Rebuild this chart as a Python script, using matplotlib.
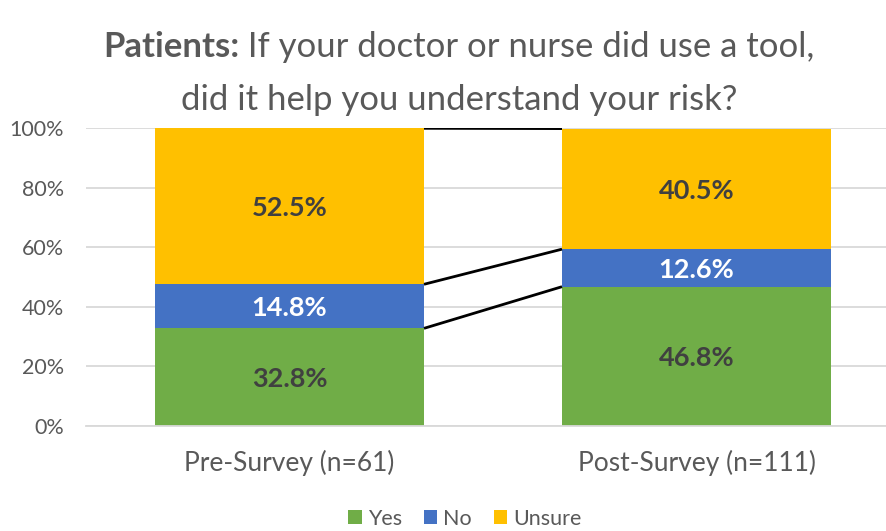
import matplotlib
matplotlib.use("Agg")
import matplotlib.pyplot as plt
import matplotlib.transforms as mtransforms
import numpy as np

categories = ["Pre-Survey (n=61)", "Post-Survey (n=111)"]
series_names = ["Yes", "No", "Unsure"]
yes_vals = [32.8, 46.8]
no_vals = [14.8, 12.6]
unsure_vals = [52.5, 40.5]
yticks = [0, 20, 40, 60, 80, 100]

colors = ["#70AD47", "#4472C4", "#FFC000"]
label_colors = ["#404040", "#FFFFFF", "#404040"]
FONT = "Lato"
plt.rcParams['font.family'] = [FONT, 'DejaVu Sans']

W, H = 886, 531
fig = plt.figure(figsize=(W/100, H/100), dpi=100)
ax = fig.add_axes([86/W, (H-426)/H, 814/W, (426-128.3)/H])

x = np.arange(len(categories))
bw = 269/407
series = [yes_vals, no_vals, unsure_vals]
bottom = np.zeros(len(categories))
tops = []
lab_off = mtransforms.offset_copy(ax.transData, fig=fig, x=0, y=-2, units="dots")
for vals, c, lc, name in zip(series, colors, label_colors, series_names):
    vals = np.array(vals)
    ax.bar(x, vals, bw, bottom=bottom, color=c, label=name, zorder=2)
    for xi, b, v in zip(x, bottom, vals):
        ax.text(xi, b + v/2, f"{v:.1f}%", ha="center", va="center", transform=lab_off,
                color=lc, fontsize=19.5, fontweight="bold", zorder=4)
    bottom = bottom + vals
    tops.append(bottom.copy())

# series lines
for t in tops:
    t = np.clip(t, 0, 100)
    ax.plot([x[0] + bw/2, x[1] - bw/2], [t[0], t[1]], color="black", lw=2, zorder=3,
            solid_capstyle="butt")

ax.set_xlim(-0.5, 1.5)
ax.set_ylim(0, 100)
ax.set_yticks(yticks)
ax.set_yticklabels([f"{v}%" for v in yticks])
ax.set_xticks(x)
ax.set_xticklabels(categories)
ax.yaxis.grid(True, color="#D9D9D9", lw=1.3, zorder=0)
ax.set_axisbelow(True)
for s in ["top", "right", "left"]:
    ax.spines[s].set_visible(False)
ax.spines["bottom"].set_color("#D9D9D9")
ax.spines["bottom"].set_linewidth(1.3)
ax.tick_params(axis="both", length=0, colors="#595959")
ax.tick_params(axis="y", pad=16)
ax.tick_params(axis="x", pad=17)
for lab in ax.get_yticklabels():
    lab.set_fontsize(15.5)
for lab in ax.get_xticklabels():
    lab.set_fontsize(19)

leg = fig.legend(loc="center", bbox_to_anchor=(465/W, 1 - 519/H), ncol=3, frameon=False,
                 fontsize=15.5, handlelength=0.62, handleheight=0.62, handletextpad=0.3,
                 columnspacing=1.0, labelcolor="#595959")

# title with bold prefix
tsize = 25
bold_part = "Patients:"
rest = " If your doctor or nurse did use a tool,"
fig.canvas.draw()
r = fig.canvas.get_renderer()
t1 = fig.text(0, 1 - 47/H, bold_part, fontsize=tsize, fontweight="bold", color="#595959", va="center")
t2 = fig.text(0, 1 - 47/H, rest, fontsize=tsize, color="#595959", va="center")
w1 = t1.get_window_extent(r).width
w2 = t2.get_window_extent(r).width
start = (W - w1 - w2) / 2 + 16
t1.set_x(start / W)
t2.set_x((start + w1) / W)
fig.text(0.5 + 16/W, 1 - 100/H, "did it help you understand your risk?", fontsize=tsize, color="#595959",
         ha="center", va="center")

fig.savefig("out.png", dpi=100)
